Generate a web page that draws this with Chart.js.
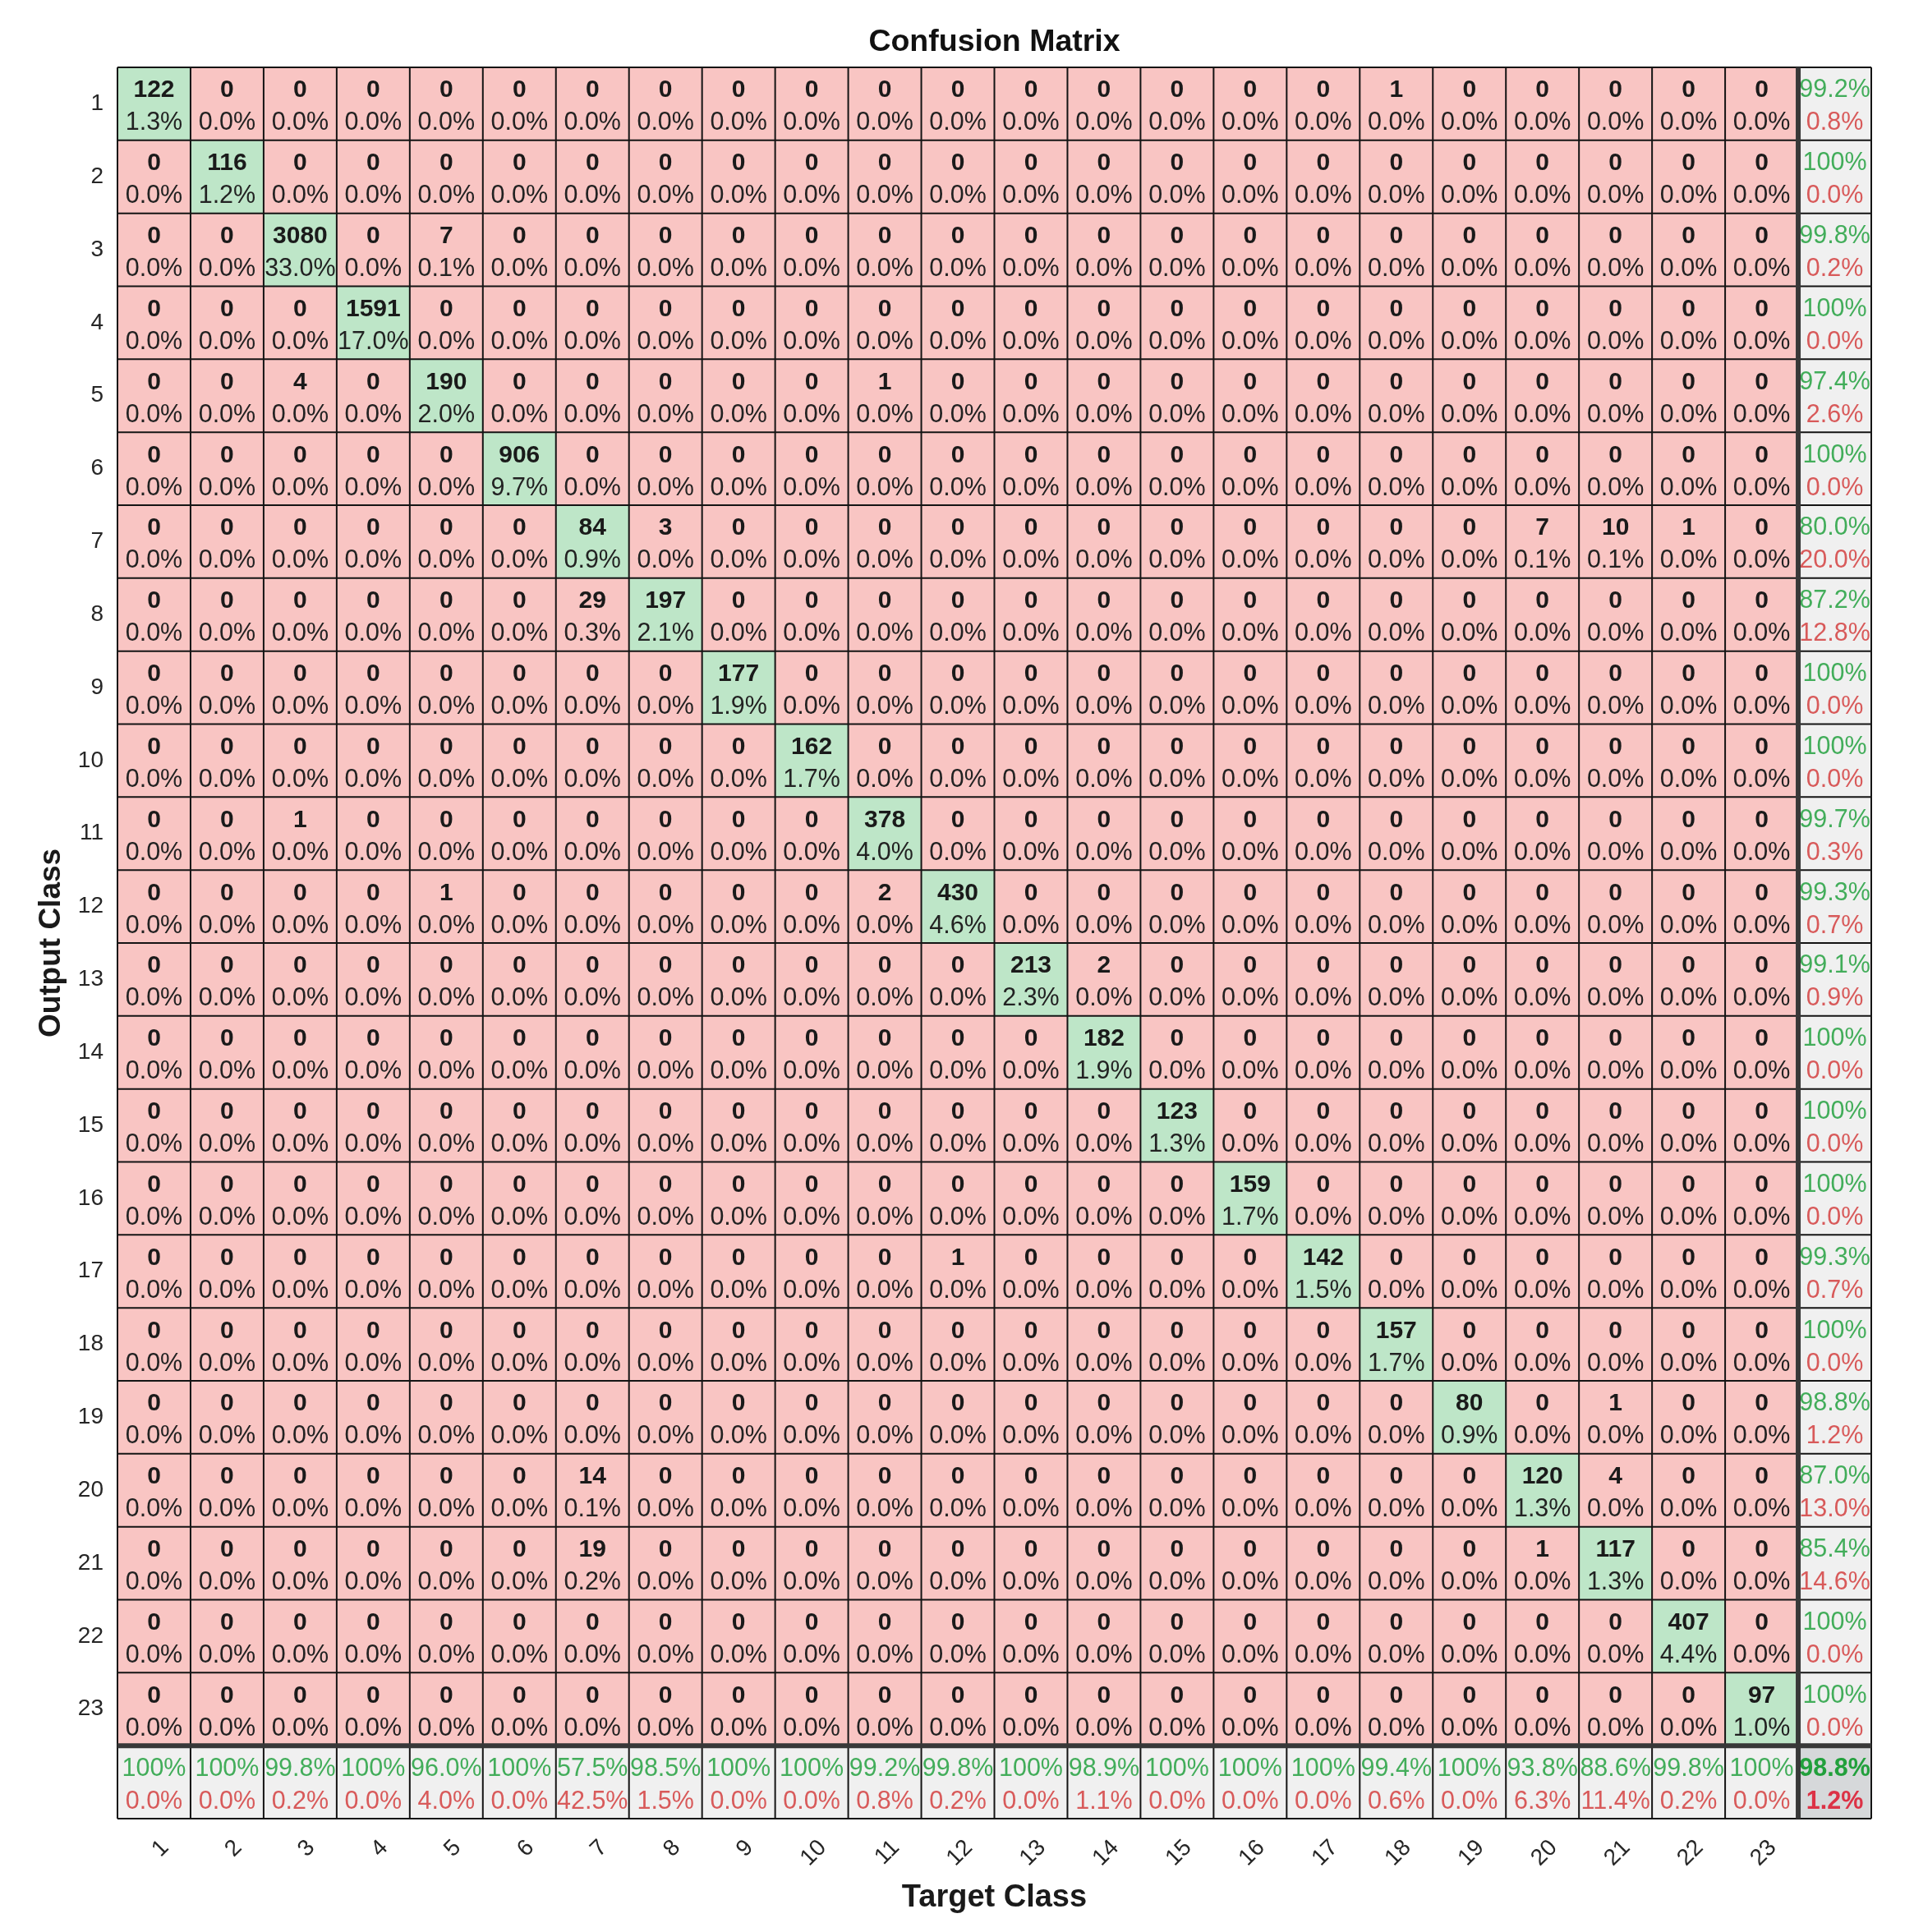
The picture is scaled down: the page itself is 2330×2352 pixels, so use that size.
<!DOCTYPE html>
<html>
<head>
<meta charset="utf-8">
<script src="https://cdn.jsdelivr.net/npm/chart.js@4.4.0/dist/chart.umd.min.js"></script>
<style>
  html, body { margin: 0; padding: 0; background: #fff; }
</style>
</head>
<body>
<canvas id="confusionChart" width="2330" height="2352"></canvas>
<script>
'use strict';

// Class names on both axes
const classLabels = ['1', '2', '3', '4', '5', '6', '7', '8', '9', '10', '11', '12',
  '13', '14', '15', '16', '17', '18', '19', '20', '21', '22', '23'];

// Correct predictions (diagonal), class 1..23
const diagCounts = [122, 116, 3080, 1591, 190, 906, 84, 197, 177, 162, 378, 430,
  213, 182, 123, 159, 142, 157, 80, 120, 117, 407, 97];

// Misclassifications: [output class, target class, count]
const offDiagCounts = [
  [1, 18, 1], [3, 5, 7], [5, 3, 4], [5, 11, 1], [7, 8, 3], [7, 20, 7], [7, 21, 10],
  [7, 22, 1], [8, 7, 29], [11, 3, 1], [12, 5, 1], [12, 11, 2], [13, 14, 2],
  [17, 12, 1], [19, 21, 1], [20, 7, 14], [20, 21, 4], [21, 7, 19], [21, 20, 1]
];

const PINK = '#F9C5C3';
const GREEN = '#BEE6C8';
const SUMMARY_BG = '#F0F0F0';
const CORNER_BG = '#D6D8DA';
const TEXT_GREEN = '#42AD5A';
const TEXT_RED = '#D85A5A';
const FONT = '"Liberation Sans", Arial, sans-serif';

const n = classLabels.length;

// Build the full matrix (rows = output class, cols = target class)
const counts = classLabels.map(() => classLabels.map(() => 0));
diagCounts.forEach((v, i) => { counts[i][i] = v; });
offDiagCounts.forEach(([r, c, v]) => { counts[r - 1][c - 1] = v; });

const rowTotals = counts.map(row => row.reduce((a, b) => a + b, 0));
const colTotals = classLabels.map((_, c) => counts.reduce((a, row) => a + row[c], 0));
const grandTotal = rowTotals.reduce((a, b) => a + b, 0);
const correctTotal = diagCounts.reduce((a, b) => a + b, 0);

function pct(p) {
  return p === 100 ? '100%' : p.toFixed(1) + '%';
}

// x has an extra (unlabelled) column for the row summaries
const xLabels = classLabels.concat(['']);

// one floating-bar dataset per row, the last row holds the column summaries
const datasets = xLabels.map((_, r) => ({
  label: 'row ' + (r + 1),
  data: xLabels.map(() => [r + 0.5, r + 1.5]),
  backgroundColor: xLabels.map((_, c) => {
    if (r === n && c === n) return CORNER_BG;
    if (r === n || c === n) return SUMMARY_BG;
    return r === c ? GREEN : PINK;
  }),
  borderWidth: 0,
  grouped: false,
  barPercentage: 1,
  categoryPercentage: 1
}));

function cellLines(r, c) {
  if (r < n && c < n) {
    return [
      { text: String(counts[r][c]), font: 'bold 30px ' + FONT, color: '#1a1a1a' },
      { text: pct(counts[r][c] / grandTotal * 100), font: '30.5px ' + FONT, color: '#222' }
    ];
  }
  let p;
  if (r < n) p = counts[r][r] / rowTotals[r] * 100;
  else if (c < n) p = counts[c][c] / colTotals[c] * 100;
  else p = correctTotal / grandTotal * 100;
  const corner = r === n && c === n;
  return [
    { text: pct(p), font: (corner ? 'bold ' : '') + '30.5px ' + FONT, color: corner ? '#22A03C' : TEXT_GREEN },
    { text: pct(100 - p), font: (corner ? 'bold ' : '') + '30.5px ' + FONT, color: corner ? '#DC3246' : TEXT_RED }
  ];
}

const matrixPlugin = {
  id: 'matrixText',
  afterDatasetsDraw(chart) {
    const ctx = chart.ctx;
    const xScale = chart.scales.x;
    const yScale = chart.scales.y;
    const area = chart.chartArea;

    // cell texts
    chart.data.datasets.forEach((ds, r) => {
      chart.getDatasetMeta(r).data.forEach((bar, c) => {
        const p = bar.getProps(['x', 'y', 'base', 'width'], true);
        const top = Math.min(p.y, p.base);
        const h = Math.abs(p.base - p.y);
        const left = p.x - p.width / 2;
        const cy = top + h / 2;
        const lines = cellLines(r, c);
        ctx.save();
        ctx.beginPath();
        ctx.rect(left, top, p.width, h);
        ctx.clip();
        ctx.textAlign = 'center';
        ctx.textBaseline = 'alphabetic';
        ctx.font = lines[0].font;
        ctx.fillStyle = lines[0].color;
        ctx.fillText(lines[0].text, p.x, cy - 8);
        ctx.font = lines[1].font;
        ctx.fillStyle = lines[1].color;
        ctx.fillText(lines[1].text, p.x, cy + 32);
        ctx.restore();
      });
    });

    // grid lines
    const xEdges = [];
    const firstRow = chart.getDatasetMeta(0).data;
    firstRow.forEach(bar => xEdges.push(bar.x - bar.width / 2));
    xEdges.push(firstRow[firstRow.length - 1].x + firstRow[firstRow.length - 1].width / 2);
    const yEdges = [];
    for (let i = 0; i <= n + 1; i++) yEdges.push(yScale.getPixelForValue(i + 0.5));

    ctx.save();
    ctx.strokeStyle = '#141414';
    ctx.lineWidth = 2;
    xEdges.forEach(x => {
      ctx.beginPath();
      ctx.moveTo(x, yEdges[0]);
      ctx.lineTo(x, yEdges[n + 1]);
      ctx.stroke();
    });
    yEdges.forEach(y => {
      ctx.beginPath();
      ctx.moveTo(xEdges[0], y);
      ctx.lineTo(xEdges[n + 1], y);
      ctx.stroke();
    });
    // thick separators before the summary row / column
    ctx.strokeStyle = '#383838';
    ctx.lineWidth = 6;
    ctx.beginPath();
    ctx.moveTo(xEdges[n], yEdges[0]);
    ctx.lineTo(xEdges[n], yEdges[n + 1]);
    ctx.moveTo(xEdges[0], yEdges[n]);
    ctx.lineTo(xEdges[n + 1], yEdges[n]);
    ctx.stroke();
    ctx.restore();

    // rotated target class labels
    ctx.save();
    ctx.font = '28px ' + FONT;
    ctx.fillStyle = '#262626';
    ctx.textAlign = 'right';
    ctx.textBaseline = 'middle';
    classLabels.forEach((label, i) => {
      ctx.save();
      ctx.translate(xScale.getPixelForTick(i) + 13.5, area.bottom + 31);
      ctx.rotate(-Math.PI / 4);
      ctx.fillText(label, 0, 0);
      ctx.restore();
    });
    ctx.restore();
  }
};

const ctx = document.getElementById('confusionChart').getContext('2d');
new Chart(ctx, {
  type: 'bar',
  data: {
    labels: xLabels,
    datasets: datasets
  },
  options: {
    responsive: false,
    devicePixelRatio: 1,
    animation: false,
    events: [],
    layout: {
      padding: { left: 0, right: 52, top: 0, bottom: 0 }
    },
    plugins: {
      legend: { display: false },
      tooltip: { enabled: false },
      title: {
        display: true,
        text: 'Confusion Matrix',
        fullSize: false,
        color: '#111',
        font: { family: FONT, size: 37.5, weight: 'bold' },
        padding: { top: 29, bottom: 8 }
      }
    },
    scales: {
      x: {
        type: 'category',
        grid: { display: false, drawTicks: false },
        border: { display: false },
        ticks: { display: false },
        title: {
          display: true,
          text: 'Target Class',
          color: '#1a1a1a',
          font: { family: FONT, size: 38, weight: 'bold' },
          padding: { top: 0, bottom: 19 }
        },
        afterFit(scale) { scale.height = 138; }
      },
      y: {
        type: 'linear',
        min: 0.5,
        max: n + 1.5,
        reverse: true,
        grid: { display: false, drawTicks: false },
        border: { display: false },
        afterBuildTicks(scale) {
          scale.ticks = classLabels.map((_, i) => ({ value: i + 1 }));
        },
        ticks: {
          padding: 17,
          color: '#262626',
          font: { family: FONT, size: 28 },
          callback: (value) => classLabels[value - 1]
        },
        title: {
          display: true,
          text: 'Output Class',
          color: '#1a1a1a',
          font: { family: FONT, size: 37, weight: 'bold' },
          padding: { top: 41, bottom: 0 }
        },
        afterFit(scale) { scale.width = 143; }
      }
    }
  },
  plugins: [matrixPlugin]
});
</script>
</body>
</html>
